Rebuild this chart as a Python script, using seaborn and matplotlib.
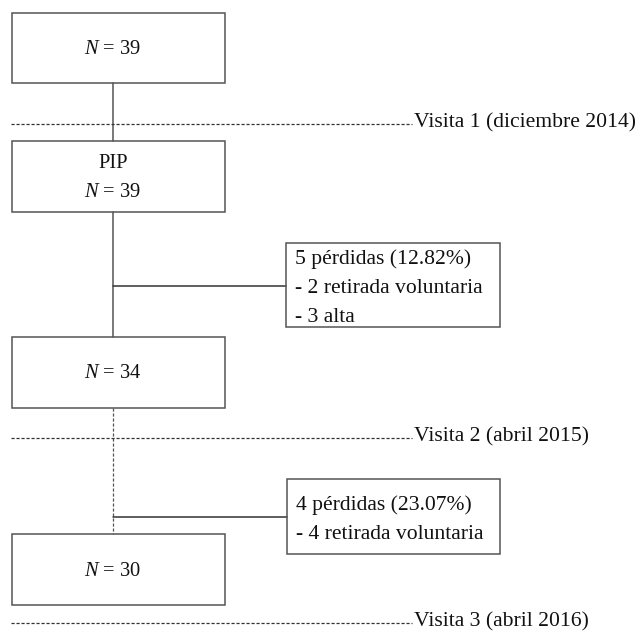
import matplotlib
matplotlib.use("Agg")
import matplotlib.pyplot as plt
from matplotlib.patches import Rectangle
import seaborn as sns

# flow of participants
main_labels = ["$N$ = 39", "PIP\n$N$ = 39", "$N$ = 34", "$N$ = 30"]
loss_labels = ["5 pérdidas (12.82%)\n- 2 retirada voluntaria\n- 3 alta",
               "4 pérdidas (23.07%)\n- 4 retirada voluntaria"]
visit_labels = ["Visita 1 (diciembre 2014)", "Visita 2 (abril 2015)", "Visita 3 (abril 2016)"]

sns.set_theme(style="white")
plt.rcParams['font.family'] = ['Liberation Serif', 'DejaVu Serif']
plt.rcParams['mathtext.fontset'] = 'custom'
plt.rcParams['mathtext.it'] = 'Liberation Serif:italic'
plt.rcParams['mathtext.rm'] = 'Liberation Serif'

fig = plt.figure(figsize=(6.35, 6.32), dpi=100)
ax = fig.add_axes([0, 0, 1, 1])
ax.set_xlim(0, 635)
ax.set_ylim(632, 0)
ax.axis("off")

fs_n = 14.8
fs = 15.6
box_col = "#555555"
line_col = "#333333"
txt_col = "#111111"

# layout (pixels)
bx0, bx1 = 12, 225
cx = 113
boxes_y = [(13, 83), (141, 212), (337, 408), (534, 605)]
loss_boxes = [(286, 500, 243, 327), (287, 500, 479, 554)]
loss_conn_y = [286, 517]
visit_y = [124, 438, 623]

for (y0, y1), lab in zip(boxes_y, main_labels):
    ax.add_patch(Rectangle((bx0, y0), bx1 - bx0, y1 - y0, fill=False,
                           ec=box_col, lw=1.1, zorder=3))
    ax.text(cx, (y0 + y1) / 2 + 1.5, lab, ha="center", va="center",
            fontsize=fs_n, linespacing=1.7, color=txt_col, zorder=4)

# solid connectors
ax.plot([cx, cx], [boxes_y[0][1], boxes_y[1][0]], color=box_col, lw=1.1)
ax.plot([cx, cx], [boxes_y[1][1], boxes_y[2][0]], color=box_col, lw=1.1)
# dashed connector
ax.plot([cx, cx], [boxes_y[2][1], boxes_y[3][0]], color=box_col, lw=0.9,
        linestyle=(0, (2.5, 1.5)))

for (x0, x1, y0, y1), cy, lab in zip(loss_boxes, loss_conn_y, loss_labels):
    ax.add_patch(Rectangle((x0, y0), x1 - x0, y1 - y0, fill=False,
                           ec=box_col, lw=1.1, zorder=3))
    ax.plot([cx, x0], [cy, cy], color=line_col, lw=1.1)
    ax.text(x0 + 9, (y0 + y1) / 2 + 3, lab, ha="left", va="center",
            fontsize=fs, linespacing=1.72, color=txt_col)

for vy, lab in zip(visit_y, visit_labels):
    ax.plot([11, 412], [vy, vy], color=line_col, lw=0.9,
            linestyle=(0, (2.5, 1.5)))
    ax.text(414, vy + 3, lab, ha="left", va="baseline", fontsize=fs,
            color=txt_col)

fig.savefig("out.png", dpi=100)
